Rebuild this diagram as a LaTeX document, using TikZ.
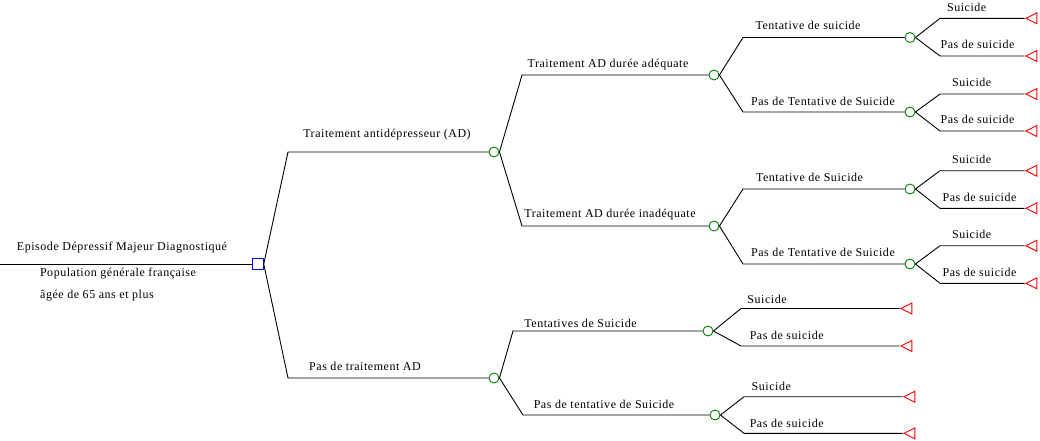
\documentclass[tikz,border=0pt]{standalone}
\usepackage{fontspec}
\setmainfont{Liberation Serif}[LetterSpace=4.5]
\usetikzlibrary{shapes.geometric}
\definecolor{cgreen}{RGB}{0,128,0}
\definecolor{cblue}{RGB}{0,0,255}
\definecolor{cred}{RGB}{255,0,0}
\tikzset{
  edge/.style={draw=black, line width=0.9pt},
  decision/.style={draw=cblue, line width=1pt, rectangle, minimum size=10.5pt, inner sep=0pt},
  chance/.style={draw=cgreen, line width=0.9pt, circle, minimum size=10pt, inner sep=0pt},
  term/.style={draw=cred, line width=0.9pt, isosceles triangle, shape border rotate=180,
    isosceles triangle stretches, minimum width=11pt, minimum height=11pt, inner sep=0pt},
  lbl/.style={font=\fontsize{12}{14}\selectfont, inner sep=0pt}
}
\begin{document}
\begin{tikzpicture}[x=1pt,y=-1pt]
\useasboundingbox (0,0) rectangle (1040,440);
\coordinate (start) at (0,264);
% nodes
\node[chance] (c1) at (494,152) {};
\node[chance] (c2) at (494,378) {};
\node[chance] (c11) at (714,75) {};
\node[chance] (c12) at (714,226) {};
\node[chance] (c111) at (910,37.5) {};
\node[chance] (c112) at (910,112) {};
\node[chance] (c121) at (910,189) {};
\node[chance] (c122) at (910,264) {};
\node[chance] (c21) at (708,331) {};
\node[chance] (c22) at (715,415) {};
\node[term] (t1) at (1033.5,18.3) {};
\node[term] (t2) at (1033.5,56) {};
\node[term] (t3) at (1033.5,94) {};
\node[term] (t4) at (1033.5,131) {};
\node[term] (t5) at (1033.5,170.7) {};
\node[term] (t6) at (1033.5,208.3) {};
\node[term] (t7) at (1033.5,245.7) {};
\node[term] (t8) at (1033.5,283.3) {};
\node[term] (t9) at (908.5,308.5) {};
\node[term] (t10) at (908.5,346) {};
\node[term] (t11) at (911.5,396.7) {};
\node[term] (t12) at (911.5,433.3) {};
\node[decision] (d0) at (258,264) {};
% connectors
\draw[edge] (start) -- (d0.west);
\draw[edge] (d0.east) -- (288,152) -- (c1.west);
\draw[edge] (d0.east) -- (288,378) -- (c2.west);
\draw[edge] (c1.east) -- (522,75) -- (c11.west);
\draw[edge] (c1.east) -- (522,226) -- (c12.west);
\draw[edge] (c11.east) -- (743,37.5) -- (c111.west);
\draw[edge] (c11.east) -- (743,112) -- (c112.west);
\draw[edge] (c12.east) -- (743,189) -- (c121.west);
\draw[edge] (c12.east) -- (743,264) -- (c122.west);
\draw[edge] (c111.east) -- (940,18.3) -- (t1.apex);
\draw[edge] (c111.east) -- (940,56) -- (t2.apex);
\draw[edge] (c112.east) -- (940,94) -- (t3.apex);
\draw[edge] (c112.east) -- (940,131) -- (t4.apex);
\draw[edge] (c121.east) -- (940,170.7) -- (t5.apex);
\draw[edge] (c121.east) -- (940,208.3) -- (t6.apex);
\draw[edge] (c122.east) -- (940,245.7) -- (t7.apex);
\draw[edge] (c122.east) -- (940,283.3) -- (t8.apex);
\draw[edge] (c2.east) -- (513,331) -- (c21.west);
\draw[edge] (c2.east) -- (523,415) -- (c22.west);
\draw[edge] (c21.east) -- (741,308.5) -- (t9.apex);
\draw[edge] (c21.east) -- (741,346) -- (t10.apex);
\draw[edge] (c22.east) -- (744,396.7) -- (t11.apex);
\draw[edge] (c22.east) -- (744,433.3) -- (t12.apex);
% labels
\node[lbl] (l0a) at (122,247.3) {Episode Dépressif Majeur Diagnostiqué};
\node[lbl] (l0b) at (118,273.3) {Population générale française};
\node[lbl, anchor=west] (l0c) at (40,295.7) {âgée de 65 ans et plus};
\node[lbl] (l1) at (387,135) {Traitement antidépresseur (AD)};
\node[lbl] (l2) at (365,366) {Pas de traitement AD};
\node[lbl] (l11) at (608,64.3) {Traitement AD durée adéquate};
\node[lbl] (l12) at (610,215) {Traitement AD durée inadéquate};
\node[lbl] (l111) at (808,25.7) {Tentative de suicide};
\node[lbl] (l112) at (823,101) {Pas de Tentative de Suicide};
\node[lbl] (l121) at (809.5,177.7) {Tentative de Suicide};
\node[lbl] (l122) at (823,252.7) {Pas de Tentative de Suicide};
\node[lbl] (s1) at (966.7,7.3) {Suicide};
\node[lbl] (s2) at (977.5,44.3) {Pas de suicide};
\node[lbl] (s3) at (971.7,82.3) {Suicide};
\node[lbl] (s4) at (977.5,119) {Pas de suicide};
\node[lbl] (s5) at (971.7,159) {Suicide};
\node[lbl] (s6) at (979.5,197.3) {Pas de suicide};
\node[lbl] (s7) at (971.7,234) {Suicide};
\node[lbl] (s8) at (979.5,272.3) {Pas de suicide};
\node[lbl] (l21) at (580.5,323.3) {Tentatives de Suicide};
\node[lbl] (l22) at (604,404.3) {Pas de tentative de Suicide};
\node[lbl] (s9) at (767,299) {Suicide};
\node[lbl] (s10) at (786.7,335) {Pas de suicide};
\node[lbl] (s11) at (771.3,386) {Suicide};
\node[lbl] (s12) at (786.7,423.3) {Pas de suicide};
\end{tikzpicture}
\end{document}
